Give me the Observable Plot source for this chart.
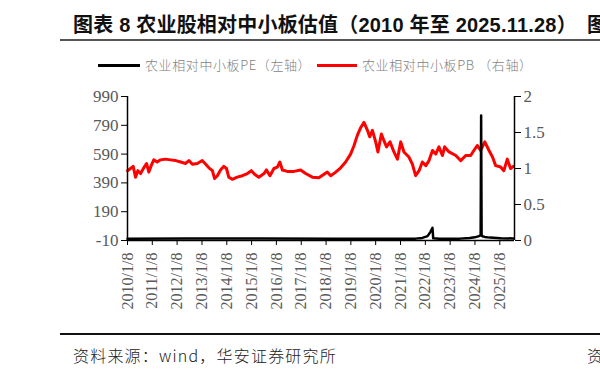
<!DOCTYPE html>
<html><head><meta charset="utf-8">
<script src="https://cdn.jsdelivr.net/npm/d3@7"></script>
<script src="https://cdn.jsdelivr.net/npm/@observablehq/plot@0.6"></script>
<style>
html,body{margin:0;padding:0;background:#fff;}
#page{position:relative;width:600px;height:371px;overflow:hidden;font-family:"Liberation Sans","Noto Sans CJK SC",sans-serif;}
.title{position:absolute;top:11px;left:73px;font-size:20px;font-weight:bold;color:#111;white-space:nowrap;line-height:28px;letter-spacing:0.2px;}
.title2{position:absolute;top:11px;left:587px;font-size:20px;font-weight:bold;color:#111;white-space:nowrap;line-height:28px;}
.hline{position:absolute;left:60px;width:540px;}
.leg{position:absolute;top:56px;font-family:"Noto Sans CJK SC",sans-serif;font-size:13px;font-weight:300;color:#7f7f7f;letter-spacing:0.6px;line-height:18px;white-space:nowrap;}
.sw{position:absolute;height:3px;top:64px;}
.foot{position:absolute;top:345px;left:73px;font-family:"Noto Sans CJK SC",sans-serif;font-size:16px;font-weight:300;color:#222;letter-spacing:1.2px;white-space:nowrap;line-height:20px;}
.foot2{position:absolute;top:345px;left:587px;font-family:"Noto Sans CJK SC",sans-serif;font-size:16px;font-weight:300;color:#222;line-height:20px;}
#chart{position:absolute;left:0;top:85px;}
#chart svg text{font-family:"Liberation Serif",serif !important;}
#chart g[aria-label="y-axis tick"] path, #chart g[aria-label="x-axis tick"] path{stroke:#000;}
</style>
</head><body>
<div id="page">
  <div class="title">图表 8 农业股相对中小板估值（2010 年至 2025.11.28）</div>
  <div class="title2">图</div>
  <div class="hline" style="top:39px;height:1.5px;background:#555;"></div>
  <div class="sw" style="left:98px;width:42px;background:#000;"></div>
  <div class="leg" style="left:145px;">农业相对中小板PE（左轴）</div>
  <div class="sw" style="left:317px;width:40px;background:#ff0000;"></div>
  <div class="leg" style="left:362px;">农业相对中小板PB （右轴）</div>
  <div id="chart"></div>
  <div class="hline" style="top:333px;height:1.5px;background:#111;"></div>
  <div class="foot">资料来源：wind，华安证券研究所</div>
  <div class="foot2">资</div>
</div>
<script>
// ---- data ----
const pbDates = ["2010-01-08","2010-02-21","2010-04-02","2010-05-06","2010-06-09","2010-07-19","2010-09-05","2010-10-15","2010-11-18","2010-12-23",
"2011-01-30","2011-03-21","2011-05-09","2011-07-21","2011-10-02","2011-12-18","2012-03-01","2012-05-13","2012-06-30","2012-08-20",
"2012-11-01","2013-01-12","2013-03-04","2013-04-20","2013-06-10","2013-07-13","2013-08-22","2013-10-08","2013-11-25","2014-01-04",
"2014-02-06","2014-03-29","2014-06-10","2014-08-26","2014-11-07","2015-01-05","2015-02-21","2015-04-24","2015-07-10","2015-08-15",
"2015-10-05","2015-12-03","2016-01-22","2016-02-28","2016-04-05","2016-06-17","2016-09-23","2016-12-30","2017-03-13","2017-06-20",
"2017-09-23","2017-12-09","2018-01-26","2018-03-18","2018-05-30","2018-08-11","2018-10-23","2019-01-04","2019-02-24","2019-04-13",
"2019-06-03","2019-07-20","2019-09-09","2019-10-12","2019-11-21","2020-01-08","2020-02-10","2020-04-01","2020-05-07","2020-06-16",
"2020-08-06","2020-10-03","2020-11-23","2021-01-11","2021-02-27","2021-05-11","2021-07-01","2021-08-18","2021-10-08","2021-11-25",
"2022-01-15","2022-03-03","2022-04-23","2022-06-10","2022-07-27","2022-09-16","2022-10-19","2022-12-23","2023-04-01","2023-06-13",
"2023-08-25","2023-11-06","2023-12-23","2024-02-13","2024-03-31","2024-06-01","2024-08-02","2024-09-22","2024-11-08","2025-01-20",
"2025-03-08","2025-04-28","2025-06-15","2025-07-26"];
const pbValues = [0.97,1.00,1.03,0.88,0.97,0.93,1.01,1.07,0.95,1.04,
1.12,1.09,1.12,1.13,1.12,1.11,1.09,1.07,1.11,1.06,
1.07,1.11,1.06,1.01,0.97,0.86,0.90,0.98,1.03,1.00,
0.88,0.85,0.88,0.90,0.93,0.97,0.92,0.88,0.93,0.98,
0.90,1.00,1.02,1.09,0.98,0.96,0.96,0.98,0.93,0.88,
0.87,0.92,0.95,0.90,0.95,1.01,1.09,1.20,1.32,1.46,
1.57,1.64,1.53,1.44,1.53,1.37,1.23,1.48,1.39,1.30,
1.37,1.23,1.13,1.37,1.23,1.16,1.06,0.90,0.97,1.09,
1.04,1.11,1.25,1.20,1.30,1.18,1.30,1.23,1.18,1.11,
1.18,1.18,1.25,1.32,1.25,1.37,1.25,1.16,1.04,1.02,
0.97,1.13,1.00,1.03];

const peDates = ["2010-01-08","2012-06-01","2015-06-01","2018-06-01","2021-08-18","2021-11-25","2022-02-10","2022-03-24","2022-04-23","2022-05-04",
"2022-08-01","2023-06-01","2023-10-22","2024-01-06","2024-03-20","2024-04-01","2024-04-08","2024-04-15","2024-04-25","2024-06-01",
"2024-08-14","2025-01-20","2025-07-26"];
const peValues = [3,4,4,3,3,8,20,50,78,5,
3,3,8,12,22,30,858,30,20,15,
10,6,4];

const xTickLabels = ["2010/1/8","2011/1/8","2012/1/8","2013/1/8","2014/1/8","2015/1/8","2016/1/8","2017/1/8",
"2018/1/8","2019/1/8","2020/1/8","2021/1/8","2022/1/8","2023/1/8","2024/1/8","2025/1/8"];
const leftTicks = [-10,190,390,590,790,990];
const rightTicks = [0,0.5,1,1.5,2];

// ---- build ----
const parse = d3.utcParse("%Y-%m-%d");
const pb = pbDates.map((d,i)=>({date:parse(d), v:pbValues[i]}));
const pe = peDates.map((d,i)=>({date:parse(d), v:peValues[i]}));
const tickDates = xTickLabels.map(s=>d3.utcParse("%Y/%m/%d")(s));
const labelOf = new Map(tickDates.map((d,i)=>[+d, xTickLabels[i]]));
const xDomain = [parse("2010-01-08"), parse("2025-08-12")];
const pbToLeft = v => -10 + 500*v;

const chart = Plot.plot({
  width: 600, height: 230,
  marginLeft: 127, marginRight: 86, marginTop: 11, marginBottom: 75,
  style: {fontFamily: "'Liberation Serif', serif", fontSize: "16px", color: "#595959", background: "transparent"},
  x: {type: "utc", domain: xDomain},
  y: {domain: [-10, 990]},
  marks: [
    Plot.axisY({ticks: leftTicks, tickFormat: d => String(d), tickSize: 6, tickPadding: 3, fontSize: 17, label: null, anchor: "left"}),
    Plot.axisY({ticks: rightTicks.map(pbToLeft), tickFormat: d => String((d+10)/500), tickSize: 6, tickPadding: 3, fontSize: 17, label: null, anchor: "right"}),
    Plot.axisX({ticks: tickDates, tickFormat: d => labelOf.get(+d), tickSize: 5, tickPadding: 7, tickRotate: -90, textAnchor: "end", fontSize: 16, label: null}),
    Plot.line(pb, {x: "date", y: d => pbToLeft(d.v), stroke: "#ff0000", strokeWidth: 3, strokeLinejoin: "round"}),
    Plot.ruleX([xDomain[0]], {stroke: "#000", strokeWidth: 1.5}),
    Plot.ruleX([xDomain[1]], {stroke: "#000", strokeWidth: 1.5}),
    Plot.ruleY([-10], {stroke: "#000", strokeWidth: 1.5}),
    Plot.line(pe, {x: "date", y: "v", stroke: "#000", strokeWidth: 2.5, strokeLinejoin: "round"})
  ]
});
document.getElementById("chart").appendChild(chart);
</script>
</body></html>
